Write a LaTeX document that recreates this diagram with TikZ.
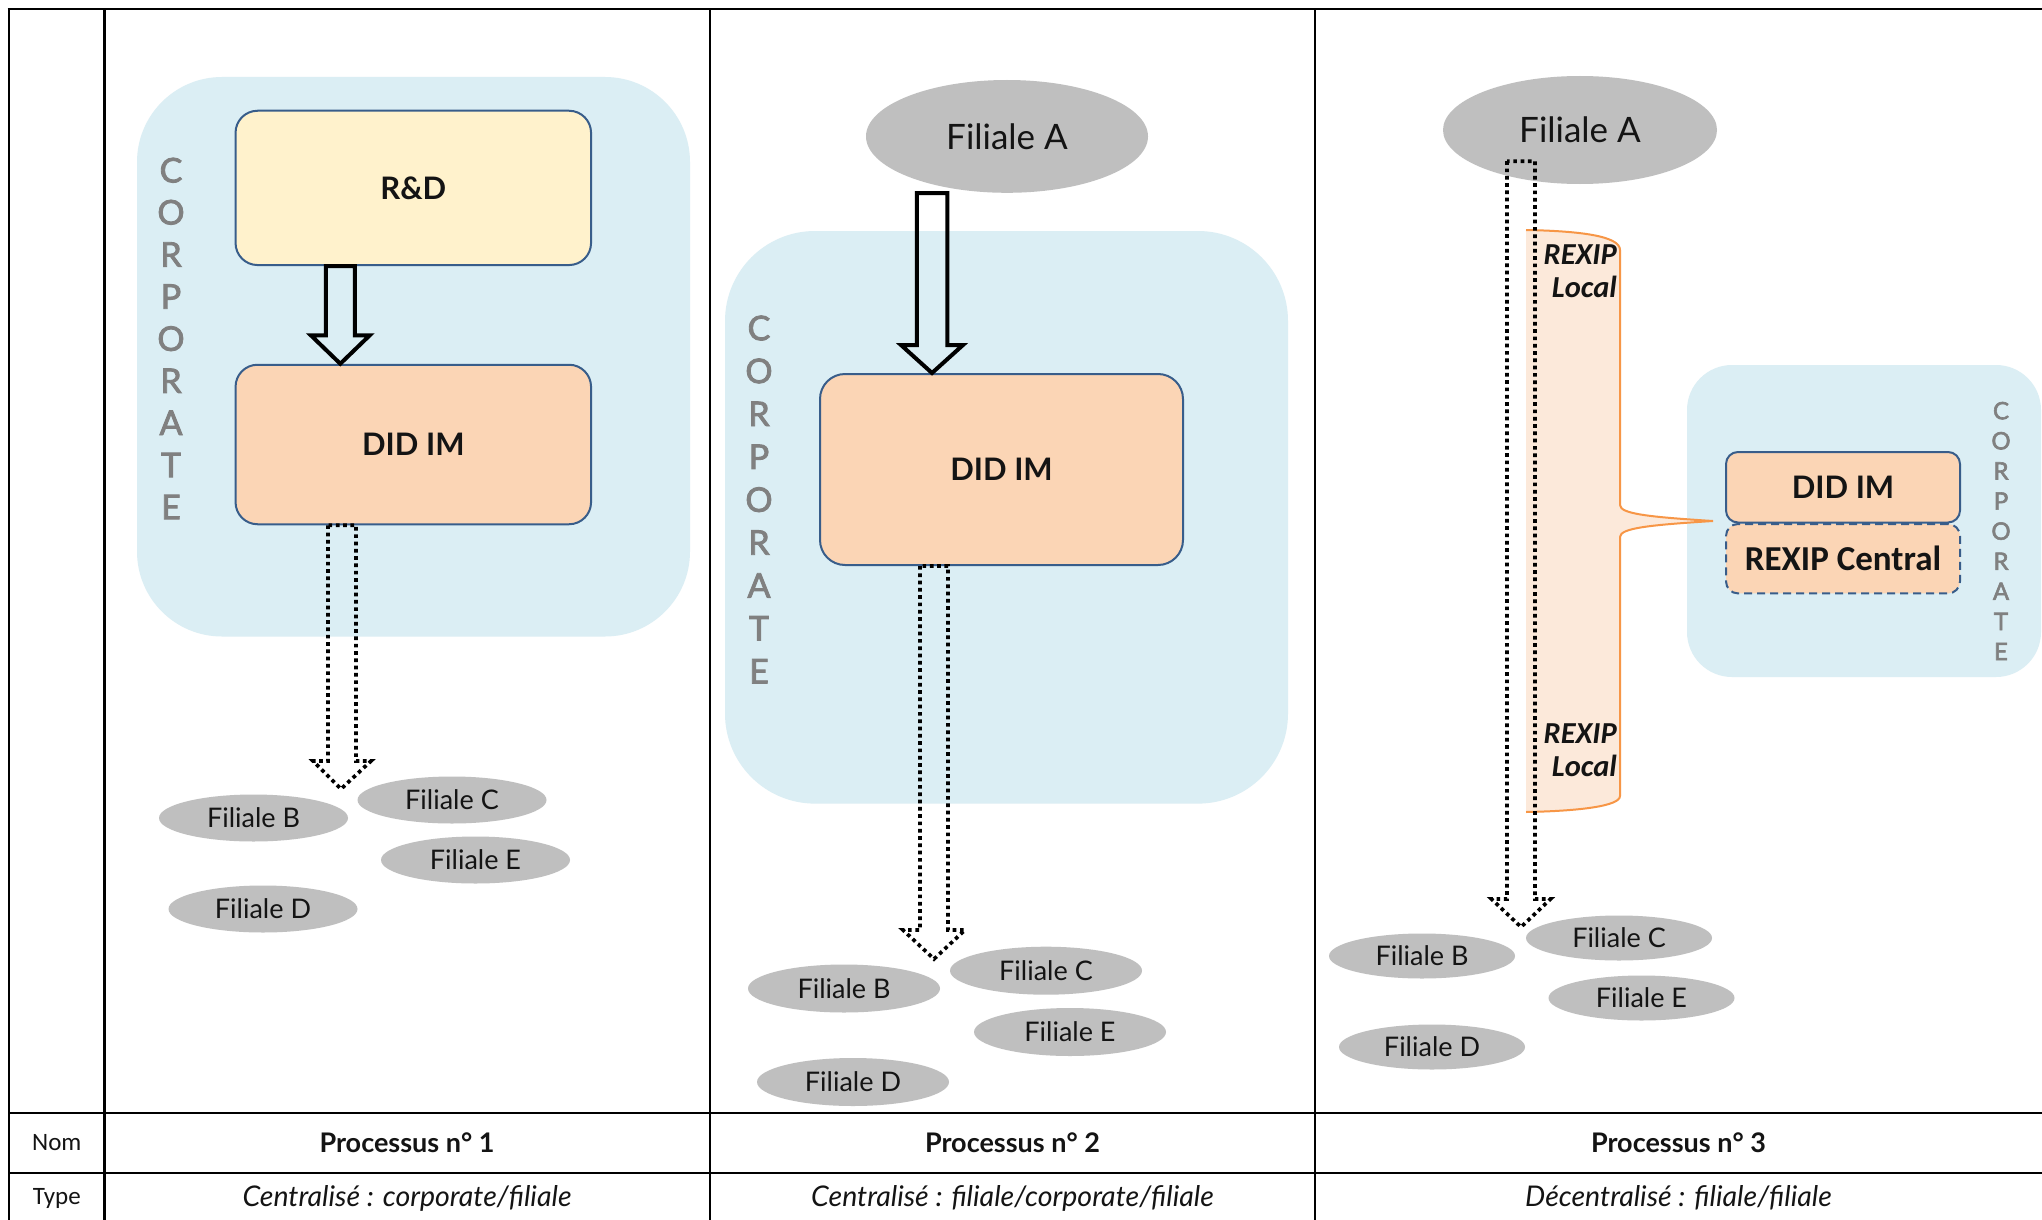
\documentclass[tikz,border=0pt]{standalone}
\usepackage{fontspec}
\setmainfont{Lato}
\newfontfamily\carlito{Carlito}
\newfontfamily\corpfont[FakeBold=2.5]{Lato}
\usetikzlibrary{shapes.geometric,calc}
\definecolor{corpblue}{RGB}{219,238,244}
\definecolor{rdyellow}{RGB}{255,242,204}
\definecolor{peach}{RGB}{251,213,181}
\definecolor{boxblue}{RGB}{56,93,138}
\definecolor{ellgray}{RGB}{191,191,191}
\definecolor{corpgray}{RGB}{128,128,128}
\definecolor{orfill}{RGB}{252,233,218}
\definecolor{orline}{RGB}{247,150,70}
\definecolor{txt}{RGB}{20,20,20}
\newcommand\blockarrow[6]{%
  \draw[#1] let \p1=#2, \p2=#3 in
    (\x1-#4,\y1) -- (\x1-#4,\y2+#6) -- (\x1-#5,\y2+#6) -- (\x2,\y2)
    -- (\x1+#5,\y2+#6) -- (\x1+#4,\y2+#6) -- (\x1+#4,\y1) -- cycle;}
\begin{document}
\begin{tikzpicture}[x=1pt,y=-1pt,
  tbl/.style={line width=2.8pt,black},
  corpzone/.style={fill=corpblue,draw=none,rectangle,inner sep=0pt},
  corptext/.style={text=corpgray,align=center,inner sep=0pt},
  procbox/.style={draw=boxblue,line width=2pt,rectangle,inner sep=0pt,text=txt,
    font=\bfseries\fontsize{31}{36}\selectfont},
  fil/.style={ellipse,fill=ellgray,draw=none,inner sep=0pt,text=txt,
    font=\fontsize{27}{32}\selectfont},
  bigfil/.style={ellipse,fill=ellgray,draw=none,inner sep=0pt,text=txt,
    font=\fontsize{35}{40}\selectfont},
  solidarrow/.style={draw=black,line width=4pt,line join=miter},
  dotarrow/.style={draw=black,line width=3.7pt,dash pattern=on 3.7pt off 3.6pt,line join=miter},
  rowhead/.style={text=txt,font=\carlito\fontsize{25}{30}\selectfont},
  procname/.style={text=txt,font=\bfseries\fontsize{27}{32}\selectfont},
  proctype/.style={text=txt,font=\itshape\fontsize{28.5}{32}\selectfont},
  rexip/.style={text=txt,align=right,inner sep=0pt,anchor=east,
    font=\carlito\bfseries\itshape\fontsize{30.5}{33}\selectfont}
]
\useasboundingbox (0,0) rectangle (2042,1220);
\fill[white] (0,0) rectangle (2042,1220);

% ---------- Panel 1 ----------
\node[corpzone,rounded corners=85pt,minimum width=553pt,minimum height=559.5pt] (cz1) at (413.5,356.75) {};
\node[corptext,font=\corpfont\fontsize{34}{42.1}\selectfont] (ct1) at (171,338.5) {C\\O\\R\\P\\O\\R\\A\\T\\E};
\node[procbox,fill=rdyellow,rounded corners=22pt,minimum width=355.5pt,minimum height=154.3pt] (rd) at (413.3,187.9) {R\&D};
\node[procbox,fill=peach,rounded corners=22pt,minimum width=355.5pt,minimum height=159.5pt] (did1) at (413.3,444.5) {DID IM};
\blockarrow{solidarrow}{([xshift=-73pt]rd.south)}{([xshift=-73pt]did1.north)}{14.5pt}{29.5pt}{28.5pt}
\coordinate (t1) at (341,789);
\blockarrow{dotarrow}{([xshift=-71.3pt]did1.south)}{(t1)}{14pt}{29pt}{28pt}
\node[fil,minimum width=189pt,minimum height=47pt] (b1) at (253.5,818) {Filiale B};
\node[fil,minimum width=189pt,minimum height=47pt] (c1) at (452,800) {Filiale C};
\node[fil,minimum width=189pt,minimum height=47pt] (e1) at (475.5,860) {Filiale E};
\node[fil,minimum width=189pt,minimum height=47pt] (d1) at (263,909) {Filiale D};

% ---------- Panel 2 ----------
\node[corpzone,rounded corners=90pt,minimum width=563pt,minimum height=572.6pt] (cz2) at (1006.5,517.3) {};
\node[corptext,font=\corpfont\fontsize{34}{42.9}\selectfont] (ct2) at (759,499.5) {C\\O\\R\\P\\O\\R\\A\\T\\E};
\node[bigfil,minimum width=282pt,minimum height=112.8pt] (fa2) at (1007,136.4) {Filiale A};
\node[procbox,fill=peach,rounded corners=25pt,minimum width=363pt,minimum height=191pt] (did2) at (1001.5,469.5) {DID IM};
\blockarrow{solidarrow}{([xshift=-75pt]fa2.south)}{([xshift=-69.5pt]did2.north)}{15.25pt}{31pt}{28pt}
\coordinate (t2) at (934,959);
\blockarrow{dotarrow}{([xshift=-67.5pt]did2.south)}{(t2)}{14pt}{31pt}{29pt}
\node[fil,minimum width=192pt,minimum height=48pt] (b2) at (844,988.5) {Filiale B};
\node[fil,minimum width=192pt,minimum height=48pt] (c2) at (1046,970.7) {Filiale C};
\node[fil,minimum width=192pt,minimum height=48pt] (e2) at (1070,1032) {Filiale E};
\node[fil,minimum width=192pt,minimum height=48pt] (d2) at (853,1082) {Filiale D};

% ---------- Panel 3 ----------
\node[corpzone,rounded corners=45pt,minimum width=354pt,minimum height=312pt] (cz3) at (1864,521) {};
\node[corptext,font=\corpfont\fontsize{24}{30.1}\selectfont] (ct3) at (2001,531) {C\\O\\R\\P\\O\\R\\A\\T\\E};
\node[bigfil,minimum width=274pt,minimum height=108pt] (fa3) at (1580,130) {Filiale A};
\node[procbox,fill=peach,rounded corners=12pt,minimum width=234pt,minimum height=70.5pt] (did3) at (1843,487.25) {DID IM};
\node[procbox,fill=peach,dashed,dash pattern=on 8pt off 5pt,rounded corners=12pt,minimum width=234pt,minimum height=69.4pt,
  font=\carlito\bfseries\fontsize{35}{40}\selectfont] (rexc) at (1843,558.7) {REXIP Central};
% brace callout
\fill[orfill] (1526,230) .. controls (1580,231) and (1620,236) .. (1620,250)
  -- (1620,505) .. controls (1620,514) and (1650,517) .. (1713,521)
  .. controls (1650,525) and (1620,528) .. (1620,537)
  -- (1620,796) .. controls (1620,806) and (1580,811) .. (1526,812) -- cycle;
\draw[orline,line width=2pt] (1526,230) .. controls (1580,231) and (1620,236) .. (1620,250)
  -- (1620,505) .. controls (1620,514) and (1650,517) .. (1713,521)
  .. controls (1650,525) and (1620,528) .. (1620,537)
  -- (1620,796) .. controls (1620,806) and (1580,811) .. (1526,812);
\coordinate (t3) at (1521,927);
\blockarrow{dotarrow}{([xshift=-59pt,yshift=23pt]fa3.south)}{(t3)}{14pt}{29.5pt}{28pt}
\node[rexip] (rl1) at (1617,271) {REXIP\\Local};
\node[rexip] (rl2) at (1617,750.7) {REXIP\\Local};
\node[fil,minimum width=186pt,minimum height=45pt] (b3) at (1422,956) {Filiale B};
\node[fil,minimum width=186pt,minimum height=45pt] (c3) at (1619,938) {Filiale C};
\node[fil,minimum width=186pt,minimum height=45pt] (e3) at (1641.5,998) {Filiale E};
\node[fil,minimum width=186pt,minimum height=45pt] (d3) at (1432,1047) {Filiale D};

% ---------- Table ----------
\draw[tbl] (7.6,9) -- (2042,9);
\draw[tbl] (9,9) -- (9,1220);
\draw[tbl] (104.5,9) -- (104.5,1220);
\draw[tbl] (710,9) -- (710,1220);
\draw[tbl] (1315,9) -- (1315,1220);
\draw[tbl] (9,1113) -- (2042,1113);
\draw[tbl] (9,1173) -- (2042,1173);
\node[rowhead] (nom) at (56.75,1143) {Nom};
\node[rowhead] (type) at (56.75,1198) {Type};
\node[procname] (p1) at (407,1143) {Processus n° 1};
\node[procname] (p2) at (1012.5,1143) {Processus n° 2};
\node[procname] (p3) at (1678.5,1143) {Processus n° 3};
\node[proctype] (ty1) at (407,1198) {Centralisé : corporate/filiale};
\node[proctype] (ty2) at (1012.5,1198) {Centralisé : filiale/corporate/filiale};
\node[proctype] (ty3) at (1678.5,1198) {Décentralisé : filiale/filiale};
\end{tikzpicture}
\end{document}
